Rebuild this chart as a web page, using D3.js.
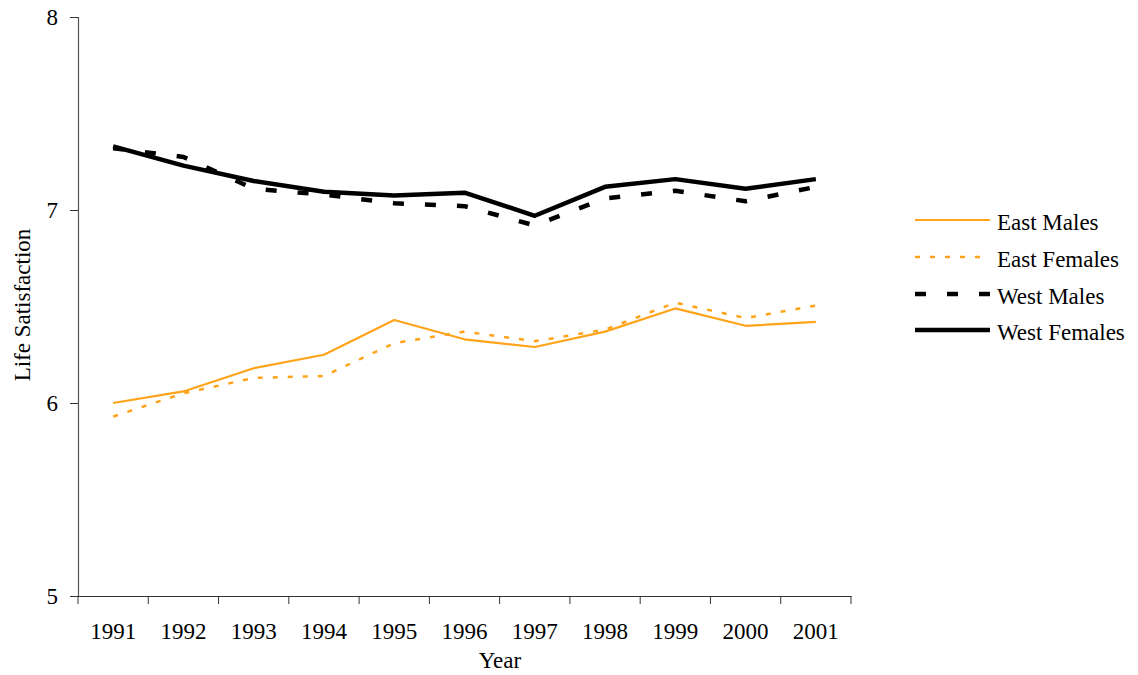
<!DOCTYPE html>
<html><head><meta charset="utf-8">
<script src="https://cdn.jsdelivr.net/npm/d3@7"></script>
<style>body{margin:0;background:#fff}svg{display:block}svg text{font-family:"Liberation Serif","Times New Roman",serif}</style>
</head><body>
<script>
const years = ["1991","1992","1993","1994","1995","1996","1997","1998","1999","2000","2001"];
const eastMales   = [6.00,6.06,6.18,6.25,6.43,6.33,6.29,6.37,6.49,6.40,6.42];
const eastFemales = [5.93,6.05,6.13,6.14,6.31,6.37,6.32,6.38,6.52,6.44,6.505];
const westMales   = [7.32,7.275,7.11,7.08,7.035,7.02,6.92,7.06,7.10,7.045,7.12];
const westFemales = [7.33,7.23,7.15,7.095,7.075,7.09,6.97,7.12,7.16,7.11,7.16];
const yTicks = [5,6,7,8];

const series = [
  {name:"East Males", values:eastMales, color:"#FFA31A", width:2.2, dash:null},
  {name:"East Females", values:eastFemales, color:"#FFA31A", width:2.5, dash:"5,10"},
  {name:"West Males", values:westMales, color:"#000", width:4.5, dash:"11,21"},
  {name:"West Females", values:westFemales, color:"#000", width:4.5, dash:null}
];

const FONT='"Liberation Serif","Times New Roman",serif';
const FS=23;
const W=1138,H=675;
const svg=d3.select("body").append("svg").attr("width",W).attr("height",H);
const x=d3.scaleBand().domain(years).range([78,851]);
const y=d3.scaleLinear().domain([5,8]).range([596,17]);

// axes
const yAxis=svg.append("g").attr("transform","translate(78,0)")
  .call(d3.axisLeft(y).tickValues(yTicks).tickSize(8).tickPadding(12).tickFormat(d3.format("d")));
yAxis.attr("font-family",FONT).attr("font-size",FS);
yAxis.select(".domain").attr("stroke","#555").attr("stroke-width",1.2);
yAxis.selectAll(".tick line").attr("stroke","#333");
yAxis.selectAll("text").attr("fill","#000");

const xAxis=svg.append("g").attr("transform","translate(0,596)")
  .call(d3.axisBottom(x).tickSize(0).tickPadding(27));
xAxis.attr("font-family",FONT).attr("font-size",FS);
xAxis.select(".domain").attr("stroke","#333").attr("stroke-width",1.2);
xAxis.selectAll("text").attr("fill","#000");
// boundary ticks
const bounds=years.map(d=>x(d)).concat([x.range()[1]]);
svg.append("g").selectAll("line").data(bounds).join("line")
  .attr("x1",d=>d).attr("x2",d=>d).attr("y1",596).attr("y2",604)
  .attr("stroke","#333").attr("stroke-width",1);

// axis titles
svg.append("text").attr("x",500).attr("y",668).attr("text-anchor","middle")
  .attr("font-size",FS).attr("font-family",FONT).text("Year");
svg.append("text").attr("transform","translate(30,305) rotate(-90)").attr("text-anchor","middle")
  .attr("font-size",FS).attr("font-family",FONT).text("Life Satisfaction");

// lines
const line=d3.line().x((d,i)=>x(years[i])+x.bandwidth()/2).y(d=>y(d));
svg.append("g").selectAll("path").data(series).join("path")
  .attr("d",d=>line(d.values)).attr("fill","none")
  .attr("stroke",d=>d.color).attr("stroke-width",d=>d.width)
  .attr("stroke-dasharray",d=>d.dash).attr("stroke-linejoin","round");

// legend
const leg=svg.append("g");
const rowsY=[220,257,294,330];
series.forEach((s,i)=>{
  leg.append("line").attr("x1",915).attr("x2",990).attr("y1",rowsY[i]).attr("y2",rowsY[i])
    .attr("stroke",s.color).attr("stroke-width",s.width).attr("stroke-dasharray",s.dash);
  leg.append("text").attr("x",997).attr("y",rowsY[i]+2).attr("dy","0.35em")
    .attr("font-size",FS).attr("font-family",FONT).text(s.name);
});
</script>
</body></html>
